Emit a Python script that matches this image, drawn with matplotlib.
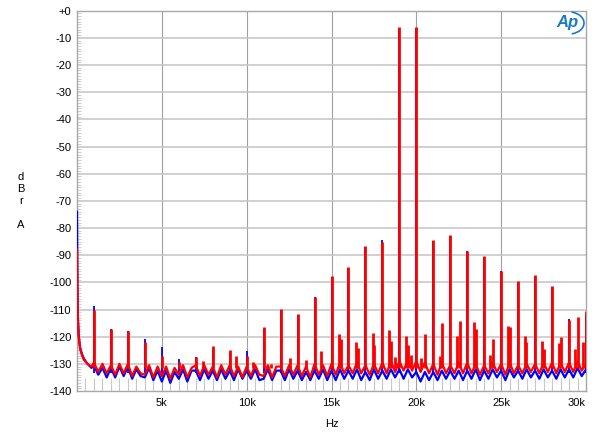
import matplotlib
matplotlib.use("Agg")
import matplotlib.pyplot as plt
from matplotlib.ticker import MultipleLocator
from matplotlib.patches import Arc

plt.rcParams['font.family'] = ['Liberation Sans', 'DejaVu Sans']

# ---------------- data ----------------
# low-frequency rise (Hz, dBrA)
low_freq = [0, 25, 50, 100, 150, 200, 300, 400, 550, 700, 850]
low_red = [-88, -105, -114, -120, -123, -125, -127, -128.5, -129.5, -130.5, -131]
low_blue = [-74, -100, -112, -119, -122.5, -124.5, -126.5, -128, -129.5, -130.5, -131.5]

# noise floor, 1 kHz .. 30 kHz every 250 Hz
floor_freq = list(range(1000, 30001, 250))
floor_red = [
    -129.5, -133.0, -130.0, -133.5,
    -130.5, -134.0, -130.0, -133.5,
    -130.0, -134.5, -131.0, -133.5,
    -134.0, -130.5, -135.0, -131.0,
    -134.5, -131.0, -135.5, -131.5,
    -134.0, -130.5, -135.0, -131.5,
    -130.5, -134.5, -130.5, -134.0,
    -131.0, -135.0, -130.5, -134.0,
    -130.5, -134.5, -131.0, -135.0,
    -131.0, -134.5, -130.5, -134.0,
    -134.5, -130.5, -135.0, -131.0,
    -131.0, -134.5, -130.5, -134.0,
    -130.5, -134.5, -131.0, -135.0,
    -130.0, -134.0, -130.5, -134.5,
    -130.0, -134.0, -129.5, -133.5,
    -130.5, -133.5, -129.5, -133.5,
    -130.5, -134.0, -130.0, -133.5,
    -129.5, -133.5, -129.0, -133.0,
    -129.0, -132.5, -128.5, -132.5,
    -129.0, -133.0, -129.5, -133.5,
    -130.0, -134.0, -129.5, -133.5,
    -130.5, -133.5, -129.5, -133.5,
    -129.5, -133.5, -130.0, -134.0,
    -130.5, -133.5, -129.5, -133.0,
    -130.0, -134.0, -129.5, -133.5,
    -130.5, -133.5, -130.0, -133.0,
    -130.0, -133.5, -129.5, -133.0,
    -129.5, -133.5, -129.5, -133.0,
    -129.5, -133.0, -129.0, -132.5,
    -130.0,
]
floor_blue = [
    -130.5, -134.0, -131.5, -135.0,
    -131.5, -135.0, -131.0, -134.5,
    -131.0, -135.5, -132.0, -134.5,
    -135.0, -131.5, -136.0, -132.5,
    -136.5, -132.5, -137.0, -133.0,
    -135.5, -132.0, -136.5, -132.5,
    -132.5, -136.0, -132.0, -135.5,
    -132.5, -136.0, -132.0, -135.5,
    -132.5, -136.0, -132.0, -135.5,
    -132.5, -135.5, -132.0, -136.0,
    -135.5, -132.0, -136.0, -132.5,
    -132.5, -136.0, -132.0, -135.5,
    -132.5, -136.0, -133.0, -136.0,
    -132.5, -135.5, -132.0, -136.0,
    -132.5, -136.0, -132.0, -135.5,
    -132.5, -135.5, -132.0, -136.0,
    -133.0, -136.0, -132.0, -135.5,
    -132.5, -135.5, -132.0, -135.0,
    -132.0, -135.5, -132.0, -135.0,
    -133.0, -136.5, -133.0, -136.0,
    -133.0, -136.0, -132.5, -135.5,
    -132.5, -135.5, -132.5, -136.0,
    -132.5, -135.5, -132.0, -136.0,
    -132.5, -135.5, -132.0, -135.0,
    -132.5, -136.0, -132.0, -135.0,
    -132.5, -135.5, -132.0, -135.0,
    -132.5, -135.5, -132.0, -135.0,
    -132.5, -135.5, -132.0, -135.0,
    -132.0, -135.0, -131.5, -134.5,
    -132.0,
]

# discrete spectral lines (Hz, dBrA)
peak_freq_red = [1000, 2000, 3000, 4000, 5000, 6000, 7000, 7450, 8000, 9000,
                 9400, 10000, 10400, 11000, 11450, 12000, 12550, 13000, 13500, 14000,
                 14400, 15000, 15420, 15550, 16000, 16420, 16550, 17000, 17420, 17530,
                 18000, 18400, 18500, 18750, 19000, 19420, 19520, 19700, 20000, 20250,
                 20530, 21000, 21380, 21530, 22000, 22420, 22550, 23000, 23400, 23520,
                 24000, 24330, 24500, 25000, 25420, 25550, 26000, 26380, 26480, 27000,
                 27400, 27520, 28000, 28380, 28530, 29000, 29350, 29530, 29800, 29980]
peak_level_red = [-110, -117, -118, -122, -127, -129.5, -127.5, -129, -123.5, -125,
                  -127.2, -127, -129.4, -116.5, -130, -109.7, -127.8, -111.5, -128.6, -105.3,
                  -125.1, -97.8, -119.2, -121, -94.5, -122, -124, -86.8, -118.6, -122.9,
                  -85, -117.4, -121.6, -127.6, -6.1, -119.6, -122.9, -126.6, -6.1, -127.7,
                  -119.2, -84.5, -127, -114.9, -82.7, -119.6, -114.3, -88.3, -114.6, -117.1,
                  -90.3, -126.6, -120.8, -95.9, -116.2, -116.4, -99.6, -119.8, -122, -97.2,
                  -121.7, -124.5, -101.4, -122.5, -120, -114, -124.5, -112.9, -122, -110.6]

peak_freq_blue = [1000, 2000, 3000, 4000, 5000, 6000, 7000, 8000, 9000, 10000,
                  11000, 12000, 13000, 14000, 15000, 16000, 17000, 18000, 19000, 20000,
                  21000, 22000, 23000, 24000, 25000, 26000, 27000, 28000, 29000, 29980]
peak_level_blue = [-108.8, -117, -118, -120.7, -123.9, -128.4, -127.4, -125, -126, -125.2,
                   -117, -110, -112, -105.5, -98, -94.8, -87, -84.3, -6.2, -6.2,
                   -84.7, -83, -88.5, -90.5, -96, -100, -97.5, -101.6, -113.4, -112]

y_ticks = list(range(-140, 1, 10))
y_tick_labels = ['+0' if v == 0 else str(v) for v in y_ticks]
x_ticks = [5000, 10000, 15000, 20000, 25000, 30000]
x_tick_labels = ['5k', '10k', '15k', '20k', '25k', '30k']

# ---------------- figure ----------------
fig = plt.figure(figsize=(6, 4.34), dpi=100)
ax = fig.add_axes([77/600, 1-391/434, (586-77)/600, (391-10.7)/434])

BLUE = '#0000ff'
RED = '#ff0000'

ax.plot(low_freq + floor_freq, low_blue + floor_blue, color=BLUE, lw=1.6, zorder=3)
ax.vlines(peak_freq_blue, -133.5, peak_level_blue, color=BLUE, lw=1.3, zorder=3)
ax.plot(low_freq + floor_freq, low_red + floor_red, color=RED, lw=1.6, zorder=4)
ax.vlines(peak_freq_red, -131.5, peak_level_red, color=RED, lw=2.0, zorder=4)

ax.set_xlim(0, 30000)
ax.set_ylim(-140, 0)

ax.set_yticks(y_ticks)
ax.set_yticklabels(y_tick_labels)
ax.set_xticks(x_ticks)
ax.set_xticklabels(x_tick_labels)
for lab in ax.get_xticklabels():
    if lab.get_text() == '30k':
        lab.set_horizontalalignment('right')

ax.tick_params(axis='both', which='major', labelsize=8, length=0, colors='black')
ax.tick_params(axis='y', which='major', pad=4)
ax.tick_params(axis='x', which='major', pad=5)
ax.yaxis.set_minor_locator(MultipleLocator(1))
ax.xaxis.set_minor_locator(MultipleLocator(500))
ax.tick_params(axis='y', which='minor', direction='in', length=3, width=0.6, color='#c8c8c8')
ax.tick_params(axis='x', which='minor', direction='in', length=9.5, width=0.8, color='#c8c8c8')

for v in [5000, 10000, 15000, 20000, 25000]:
    ax.axvline(v, color='#a0a0a0', lw=0.8, zorder=1)
for v in range(-130, 0, 10):
    ax.axhline(v, color='#c4c4c4', lw=1.1, zorder=1)

for s in ax.spines.values():
    s.set_color('#a8a8a8')
    s.set_linewidth(1.0)

ax.set_xlabel('Hz', fontsize=8, labelpad=8)
fig.text(21/600, 1-201/434, 'd\nB\nr\n\nA', fontsize=8, ha='center', va='center',
         linespacing=1.25)

# Ap logo
logo_color = '#1a7bc4'
fig.text(567/600, 1-23/434, 'Ap', fontsize=12, fontstyle='italic', fontweight='bold',
         color=logo_color, ha='center', va='center')
arc = Arc((569/600, 1-23/434), 30/600, 22/434, angle=0, theta1=-80, theta2=80,
          transform=fig.transFigure, color=logo_color, lw=1.2)
fig.add_artist(arc)

fig.savefig('out.png', dpi=100)
